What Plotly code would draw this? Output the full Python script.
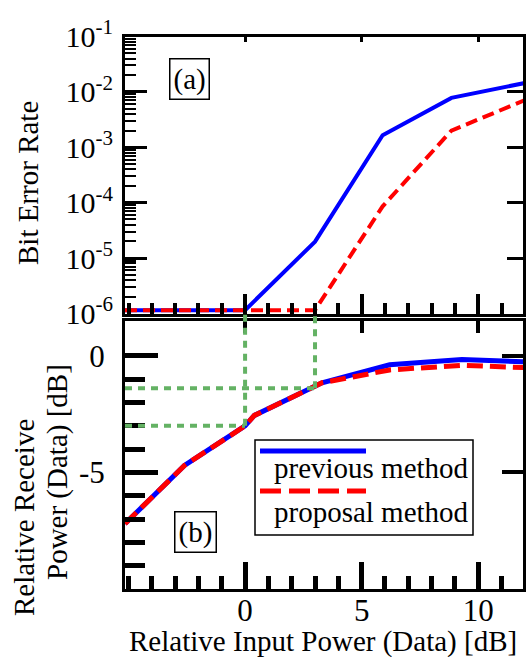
import math
import plotly.graph_objects as go

W, H = 528, 657

# ---------------- data ----------------
# (a) Bit error rate vs relative input power
ber_x = [-5.15, 0, 3, 5.9, 8.85, 12]
ber_prev = [1.15e-6, 1.15e-6, 1.98e-5, 1.65e-3, 7.8e-3, 1.45e-2]
ber_prop = [1.15e-6, 1.15e-6, 1.15e-6, 8.6e-5, 2.0e-3, 7.1e-3]

# (b) Relative receive power vs relative input power
rx_x = [-5.15, -2.6, 0, 0.4, 3.3, 6.2, 9.3, 12]
rx_prev = [-7.2, -4.7, -3.0, -2.55, -1.15, -0.38, -0.15, -0.25]
rx_prop = [-7.2, -4.7, -3.0, -2.55, -1.15, -0.6, -0.4, -0.5]

# guide lines (input power where BER leaves the floor, and resulting receive power)
guide_x = [0, 3]
guide_rx = [-3.0, -1.39]
ber_floor = 1.15e-6

series_names = ["previous method", "proposal method"]
x_tickvals = [0, 5, 10]
rx_tickvals = [-5, 0]
rx_ticktext = ["-5", "0"]
rx_minor = [-9, -8, -7, -6, -4, -3, -2, -1]
ber_exponents = [-6, -5, -4, -3, -2, -1]
ber_digits = [2, 3, 4, 5, 6, 7, 8, 9]

# ---------------- layout geometry ----------------
FONT = "Liberation Serif"
BLUE = "#0000ff"
RED = "#ff0000"
GREEN = "rgb(100,178,100)"


def px(x):
    return x / W


def py(y):
    return 1 - y / H


xr = [-5.15, 11.92]
yr_a = [-6, -1]
yr_b = [-10, 1.5]
xdom = [px(125), px(523)]
ydom_a = [py(313.5), py(36.5)]
ydom_b = [py(589), py(321)]


def paper_b(v):
    return ydom_b[0] + (v - yr_b[0]) / (yr_b[1] - yr_b[0]) * (ydom_b[1] - ydom_b[0])


def paper_a(v):
    lv = math.log10(v)
    return ydom_a[0] + (lv - yr_a[0]) / (yr_a[1] - yr_a[0]) * (ydom_a[1] - ydom_a[0])


ber_major_vals = [10.0 ** e for e in ber_exponents]
ber_major_text = ["10<sup>%d</sup>" % e for e in ber_exponents]
ber_minor_vals = [d * 10.0 ** e for e in ber_exponents[:-1] for d in ber_digits]

fig = go.Figure()

# panel (a)
fig.add_trace(go.Scatter(x=ber_x, y=ber_prev, mode="lines", name=series_names[0],
                         line=dict(color=BLUE, width=4), xaxis="x", yaxis="y",
                         showlegend=False))
fig.add_trace(go.Scatter(x=ber_x, y=ber_prop, mode="lines", name=series_names[1],
                         line=dict(color=RED, width=4, dash="12px,6px"), xaxis="x", yaxis="y",
                         showlegend=False))
fig.add_trace(go.Scatter(x=ber_x, y=ber_prev, mode="lines", opacity=0, hoverinfo="skip",
                         xaxis="x2", yaxis="y2", showlegend=False))
fig.add_trace(go.Scatter(x=ber_x, y=ber_prev, mode="lines", opacity=0, hoverinfo="skip",
                         xaxis="x", yaxis="y5", showlegend=False))

# panel (b)
fig.add_trace(go.Scatter(x=rx_x, y=rx_prev, mode="lines", name=series_names[0],
                         line=dict(color=BLUE, width=5), xaxis="x3", yaxis="y3",
                         showlegend=False))
fig.add_trace(go.Scatter(x=rx_x, y=rx_prop, mode="lines", name=series_names[1],
                         line=dict(color=RED, width=5, dash="16px,7px"), xaxis="x3", yaxis="y3",
                         showlegend=False))
fig.add_trace(go.Scatter(x=rx_x, y=rx_prev, mode="lines", opacity=0, hoverinfo="skip",
                         xaxis="x4", yaxis="y4", showlegend=False))

common = dict(showgrid=False, zeroline=False, tickcolor="black", linecolor="black",
              automargin=False)
tickfont = dict(family=FONT, size=31, color="black")

fig.update_layout(
    width=W, height=H,
    margin=dict(l=0, r=0, t=0, b=0, pad=0, autoexpand=False),
    paper_bgcolor="white", plot_bgcolor="white",
    font=dict(family=FONT, size=29, color="black"),
    showlegend=False,
    xaxis=dict(domain=xdom, anchor="y", range=xr, showline=True, mirror=True, linewidth=3,
               ticks="inside", tickmode="array", tickvals=x_tickvals, ticklen=20, tickwidth=4,
               showticklabels=False,
               minor=dict(ticks="inside", dtick=1, tick0=0, ticklen=11, tickwidth=4,
                          tickcolor="black", showgrid=False),
               **common),
    xaxis2=dict(overlaying="x", side="top", anchor="y", range=xr, showline=False,
                ticks="inside", tickmode="array", tickvals=x_tickvals, ticklen=5, tickwidth=3,
                showticklabels=False, **common),
    yaxis=dict(domain=ydom_a, anchor="x", type="log", range=yr_a, showline=True, mirror=True,
               linewidth=3, ticks="inside", tickmode="array", tickvals=ber_major_vals,
               ticktext=ber_major_text, ticklen=22, tickwidth=3,
               tickfont=dict(family=FONT, size=30, color="black"), ticklabelstandoff=3,
               **common),
    yaxis5=dict(overlaying="y", side="left", anchor="x", type="log", range=yr_a,
                showline=False, ticks="inside", tickmode="array", tickvals=ber_minor_vals,
                ticklen=11, tickwidth=1.6, showticklabels=False, **common),
    yaxis2=dict(overlaying="y", side="right", anchor="x", type="log", range=yr_a,
                showline=False, ticks="inside", tickmode="array", tickvals=ber_major_vals,
                ticklen=16, tickwidth=3, showticklabels=False, **common),
    xaxis3=dict(domain=xdom, anchor="y3", range=xr, showline=True, mirror=True, linewidth=3,
                ticks="inside", tickmode="array", tickvals=x_tickvals, ticklen=27, tickwidth=5,
                tickfont=tickfont, ticklabelstandoff=-8,
                minor=dict(ticks="inside", dtick=1, tick0=0, ticklen=13, tickwidth=5,
                           tickcolor="black", showgrid=False),
                **common),
    xaxis4=dict(overlaying="x3", side="top", anchor="y3", range=xr, showline=False,
                ticks="inside", tickmode="array", tickvals=x_tickvals, ticklen=12, tickwidth=4,
                showticklabels=False, **common),
    yaxis3=dict(domain=ydom_b, anchor="x3", range=yr_b, showline=True, mirror=True, linewidth=3,
                ticks="inside", tickmode="array", tickvals=rx_tickvals, ticktext=rx_ticktext,
                ticklen=33, tickwidth=5, tickfont=tickfont, ticklabelstandoff=11,
                minor=dict(ticks="inside", tickmode="array", tickvals=rx_minor,
                           ticklen=20, tickwidth=5, tickcolor="black", showgrid=False),
                **common),
    yaxis4=dict(overlaying="y3", side="right", anchor="x3", range=yr_b, showline=False,
                ticks="inside", tickmode="array", tickvals=rx_tickvals, ticklen=21,
                tickwidth=4, showticklabels=False, **common),
)

# guide lines
shapes = []
for gx, gy in zip(guide_x, guide_rx):
    shapes.append(dict(type="line", xref="x3", yref="paper", x0=gx, x1=gx,
                       y0=paper_b(gy), y1=paper_a(ber_floor),
                       line=dict(color=GREEN, width=4, dash="7px,6px"), layer="above"))
    shapes.append(dict(type="line", xref="x3", yref="paper", x0=xr[0], x1=gx,
                       y0=paper_b(gy), y1=paper_b(gy),
                       line=dict(color=GREEN, width=4, dash="7px,6px"), layer="above"))

# custom legend (line sample above label)
shapes.append(dict(type="rect", xref="paper", yref="paper", x0=px(255), x1=px(473),
                   y0=py(535), y1=py(440), line=dict(color="black", width=1.5),
                   fillcolor="white", layer="above"))
shapes.append(dict(type="line", xref="paper", yref="paper", x0=px(260), x1=px(366),
                   y0=py(451), y1=py(451), line=dict(color=BLUE, width=5), layer="above"))
shapes.append(dict(type="line", xref="paper", yref="paper", x0=px(260), x1=px(366),
                   y0=py(491), y1=py(491), line=dict(color=RED, width=5, dash="21px,8px"),
                   layer="above"))
fig.update_layout(shapes=shapes)

annotations = [
    dict(text="Bit Error Rate", x=px(28), y=py(183), textangle=-90),
    dict(text="Relative Receive", x=px(24), y=py(518), textangle=-90),
    dict(text="Power (Data) [dB]", x=px(57), y=py(472), textangle=-90),
    dict(text="Relative Input Power (Data) [dB]", x=px(323), y=py(641)),
    dict(text="(a)", x=px(189.5), y=py(79), bordercolor="black", borderwidth=1.5,
         borderpad=3, bgcolor="white"),
    dict(text="(b)", x=px(195), y=py(532), bordercolor="black", borderwidth=1.5,
         borderpad=3, bgcolor="white"),
    dict(text=series_names[0], x=px(272), y=py(468), xanchor="left"),
    dict(text=series_names[1], x=px(272), y=py(512), xanchor="left"),
]
for a in annotations:
    a.setdefault("xanchor", "center")
    a.update(xref="paper", yref="paper", yanchor="middle", showarrow=False,
             font=dict(family=FONT, size=29, color="black"))
fig.update_layout(annotations=annotations)

fig.write_html("out.html", config={"displayModeBar": False},
               post_script="document.body.style.margin='0px';")
